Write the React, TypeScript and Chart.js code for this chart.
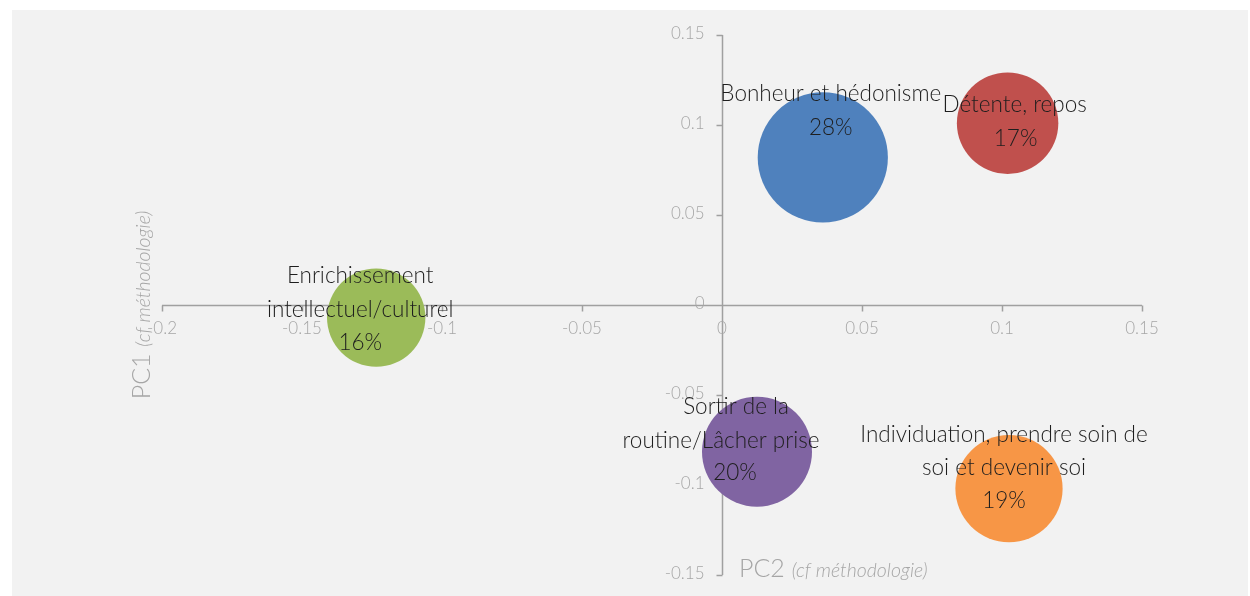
import React, { useEffect, useRef } from "react";
import { Chart, registerables } from "chart.js";

Chart.register(...registerables);

// ---- data ----
const categories = [
  "Bonheur et hédonisme",
  "Détente, repos",
  "Enrichissement intellectuel/culturel",
  "Sortir de la routine/Lâcher prise",
  "Individuation, prendre soin de soi et devenir soi",
];
const labelLines = [
  ["Bonheur et hédonisme", "28%"],
  ["Détente, repos", "17%"],
  ["Enrichissement", "intellectuel/culturel", "16%"],
  ["Sortir de la", "routine/Lâcher prise", "20%"],
  ["Individuation, prendre soin de", "soi et devenir soi", "19%"],
];
const pc2Values = [0.036, 0.102, -0.1235, 0.0125, 0.1025];
const pc1Values = [0.082, 0.101, -0.007, -0.0815, -0.102];
const shareValues = [28, 17, 16, 20, 19];
const xMin = -0.2;
const xMax = 0.15;
const yMin = -0.15;
const yMax = 0.15;
const tickStep = 0.05;
const xTitle = ["PC2 ", "(cf méthodologie)"];
const yTitle = ["PC1 ", "(cf méthodologie)"];

// ---- styles ----
const colors = ["#4f81bd", "#c0504d", "#9bbb59", "#8064a2", "#f79646"];
const FONT = "Lato, 'Open Sans', sans-serif";
const axisGray = "#a0a0a0";
const tickGray = "#a6a6a6";
const bubbleScale = 12.3;
const tickLen = 6;
// per-line label offsets (px) relative to bubble centre
const labelOffsets = [
  [[8, -64], [8, -30]],
  [[7, -18], [8, 16]],
  [[-16, -42], [-16, -8], [-16, 25]],
  [[-21, -45], [-36, -11], [-22, 21]],
  [[-5, -54], [-5, -21], [-5, 12]],
];

const fmt = (v: number) => {
  const n = Number(v.toFixed(2));
  return (Object.is(n, -0) ? 0 : n).toString();
};

const tickValues = (scale: any, min: number, max: number) => {
  if (scale.ticks && scale.ticks.length) return scale.ticks.map((t: any) => t.value);
  const out: number[] = [];
  for (let v = min; v <= max + 1e-9; v += tickStep) out.push(Number(v.toFixed(4)));
  return out;
};

const bgPlugin = {
  id: "panelBg",
  beforeDraw(chart: any) {
    const { ctx, width, height } = chart;
    ctx.save();
    ctx.fillStyle = "#ffffff";
    ctx.fillRect(0, 0, width, height);
    ctx.fillStyle = "#f2f2f2";
    ctx.fillRect(12, 10, width - 14, height - 10);
    ctx.restore();
  },
};

// crossing axes drawn from the chart's own scales
const axesPlugin = {
  id: "crossAxes",
  beforeDatasetsDraw(chart: any) {
    const { ctx } = chart;
    const xs = chart.scales.x;
    const ys = chart.scales.y;
    const x0 = Math.round(xs.getPixelForValue(0)) + 0.5;
    const y0 = Math.round(ys.getPixelForValue(0)) + 0.5;
    const left = xs.getPixelForValue(xMin);
    const right = xs.getPixelForValue(xMax);
    const top = ys.getPixelForValue(yMax);
    const bottom = ys.getPixelForValue(yMin);
    ctx.save();
    ctx.strokeStyle = axisGray;
    ctx.lineWidth = 1.5;
    ctx.beginPath();
    ctx.moveTo(left, y0);
    ctx.lineTo(right, y0);
    ctx.moveTo(x0, top);
    ctx.lineTo(x0, bottom);
    tickValues(xs, xMin, xMax).forEach((v: number) => {
      const px = Math.round(xs.getPixelForValue(v)) + 0.5;
      ctx.moveTo(px, y0);
      ctx.lineTo(px, y0 + tickLen);
    });
    tickValues(ys, yMin, yMax).forEach((v: number) => {
      const py = Math.round(ys.getPixelForValue(v)) + 0.5;
      ctx.moveTo(x0, py);
      ctx.lineTo(x0 - tickLen, py);
    });
    ctx.stroke();

    ctx.fillStyle = tickGray;
    ctx.font = `300 17px ${FONT}`;
    ctx.textAlign = "center";
    ctx.textBaseline = "middle";
    tickValues(xs, xMin, xMax).forEach((v: number) => {
      ctx.fillText(fmt(v), xs.getPixelForValue(v), y0 + 23);
    });
    ctx.textAlign = "right";
    tickValues(ys, yMin, yMax).forEach((v: number) => {
      ctx.fillText(fmt(v), x0 - 18, ys.getPixelForValue(v) - 1);
    });
    ctx.restore();
  },
};

const labelPlugin = {
  id: "bubbleLabels",
  afterDatasetsDraw(chart: any) {
    const { ctx } = chart;
    const meta = chart.getDatasetMeta(0);
    ctx.save();
    ctx.fillStyle = "#1e1e1e";
    ctx.font = `300 22.5px ${FONT}`;
    ctx.textAlign = "center";
    ctx.textBaseline = "middle";
    meta.data.forEach((el: any, i: number) => {
      labelLines[i].forEach((line, j) => {
        const [dx, dy] = labelOffsets[i][j];
        ctx.fillText(line, el.x + dx, el.y + dy);
      });
    });
    ctx.restore();
  },
};

const titlePlugin = {
  id: "axisTitles",
  afterDraw(chart: any) {
    const { ctx } = chart;
    const xs = chart.scales.x;
    const ys = chart.scales.y;
    const big = `300 25px ${FONT}`;
    const small = `italic 300 19.5px ${FONT}`;
    ctx.save();
    ctx.fillStyle = tickGray;
    ctx.textBaseline = "alphabetic";
    ctx.textAlign = "left";
    // X title
    const x0 = xs.getPixelForValue(0) + 17;
    const yb = ys.getPixelForValue(yMin) + 2;
    ctx.font = big;
    ctx.fillText(xTitle[0], x0, yb);
    const w0 = ctx.measureText(xTitle[0]).width;
    ctx.font = small;
    ctx.fillText(xTitle[1], x0 + w0, yb);
    // Y title (rotated)
    ctx.font = big;
    const a = ctx.measureText(yTitle[0]).width;
    ctx.font = small;
    const b = ctx.measureText(yTitle[1]).width;
    ctx.translate(xs.getPixelForValue(xMin) - 12, ys.getPixelForValue(0));
    ctx.rotate(-Math.PI / 2);
    const start = -(a + b) / 2;
    ctx.font = big;
    ctx.fillText(yTitle[0], start, 0);
    ctx.font = small;
    ctx.fillText(yTitle[1], start + a, 0);
    ctx.restore();
  },
};

export default function App() {
  const ref = useRef<HTMLCanvasElement | null>(null);

  useEffect(() => {
    if (!ref.current) return;
    const chart = new Chart(ref.current, {
      type: "bubble",
      data: {
        datasets: [
          {
            label: "PCA",
            data: categories.map((c, i) => ({ x: pc2Values[i], y: pc1Values[i], r: bubbleScale * Math.sqrt(shareValues[i]) })),
            backgroundColor: colors,
            borderWidth: 0,
            hoverBorderWidth: 0,
            clip: false as any,
          },
        ],
      },
      options: {
        responsive: false,
        animation: false,
        devicePixelRatio: 1,
        layout: { autoPadding: false, padding: { left: 162, right: 108, top: 35, bottom: 21 } },
        plugins: {
          legend: { display: false },
          tooltip: { enabled: false },
        },
        scales: {
          x: {
            type: "linear",
            display: false,
            min: xMin,
            max: xMax,
            ticks: { stepSize: tickStep },
          },
          y: {
            type: "linear",
            display: false,
            min: yMin,
            max: yMax,
            ticks: { stepSize: tickStep },
          },
        },
      },
      plugins: [bgPlugin, axesPlugin, labelPlugin, titlePlugin],
    });
    return () => chart.destroy();
  }, []);

  return (
    <div style={{ position: "absolute", left: 0, top: 0, width: 1250, height: 596, background: "#fff" }}>
      <canvas ref={ref} width={1250} height={596} style={{ display: "block" }} />
    </div>
  );
}
